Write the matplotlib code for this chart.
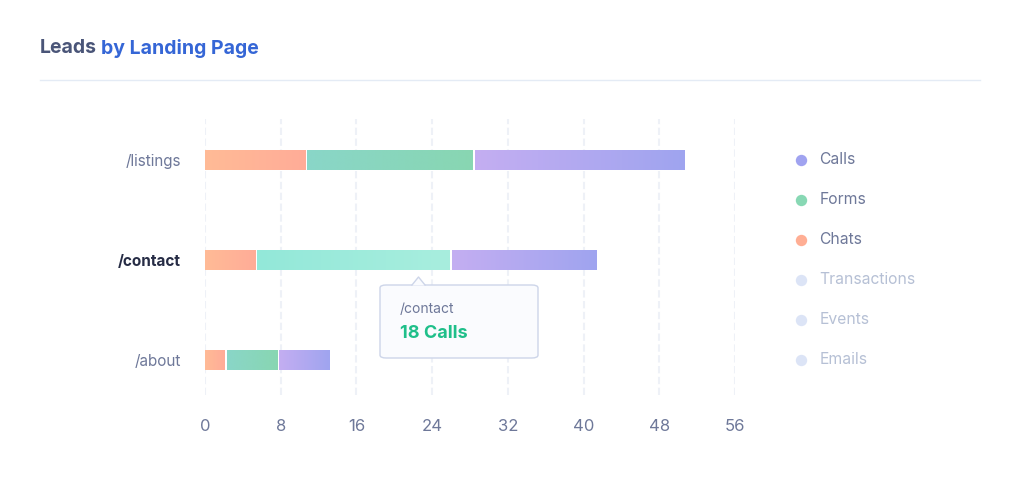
import matplotlib
matplotlib.use("Agg")
import matplotlib.pyplot as plt
import numpy as np
from matplotlib.patches import FancyBboxPatch, Polygon
from matplotlib.colors import LinearSegmentedColormap

# ---- data ----
pages = ["/listings", "/contact", "/about"]
chats = [10.7, 5.4, 2.2]
forms = [17.7, 20.6, 5.5]
calls = [22.4, 15.5, 5.5]
x_ticks = [0, 8, 16, 24, 32, 40, 48, 56]
legend_labels = ["Calls", "Forms", "Chats", "Transactions", "Events", "Emails"]
legend_active = [True, True, True, False, False, False]
title_a = "Leads"
title_b = "by Landing Page"
tooltip_page = "/contact"
tooltip_value = "18 Calls"
highlight_page = "/contact"

FONT = ["Inter", "DejaVu Sans"]
plt.rcParams["font.family"] = FONT

W, H = 1020, 480
fig = plt.figure(figsize=(W / 100, H / 100), dpi=100)
fig.patch.set_facecolor("white")

def fx(px):
    return px / W

def fy(py):
    return 1 - py / H

# axes placed in pixel positions
ax = fig.add_axes([fx(205), fy(395), fx(735) - fx(205), (395 - 119) / H])
ax.set_xlim(0, 56)
ax.set_ylim(2.35, -0.41)
for s in ax.spines.values():
    s.set_visible(False)
ax.set_facecolor("none")

ax.set_xticks(x_ticks)
ax.set_xticklabels([str(t) for t in x_ticks], fontsize=12, color="#6E7899")
ax.tick_params(axis="x", length=0, pad=17.5)
ax.grid(axis="x", color="#EEF1F7", linestyle=(0, (3.5, 1.7)), linewidth=1.5, zorder=0)
ax.set_axisbelow(True)

ypos = np.arange(len(pages))
ax.set_yticks(ypos)
ax.set_yticklabels(pages, fontsize=11, color="#6E7899")
ax.tick_params(axis="y", length=0, pad=17.5)
for lbl in ax.get_yticklabels():
    lbl.set_y(lbl.get_position()[1])
    if lbl.get_text() == highlight_page:
        lbl.set_fontweight("bold")
        lbl.set_color("#262C45")

grad = {
    "chats": ("#FFBB96", "#FFAC98"),
    "forms": ("#8AD6C8", "#88D6B2"),
    "calls": ("#C4AEF2", "#9FA4EF"),
    "forms_hl": ("#93E8D9", "#A8EEDE"),
}

px_unit = 56 / 530.0
bar_h = 0.2
grad_img = np.linspace(0, 1, 256).reshape(1, -1)

series = [("chats", chats), ("forms", forms), ("calls", calls)]
for i, page in enumerate(pages):
    left = 0.0
    for key, vals in series:
        v = vals[i]
        bars = ax.barh(i, v, left=left, height=bar_h, color="none", edgecolor="none")
        patch = bars[0]
        gkey = key
        if key == "forms" and page == highlight_page:
            gkey = "forms_hl"
        cmap = LinearSegmentedColormap.from_list(gkey, grad[gkey])
        x0 = patch.get_x() + (px_unit if patch.get_x() > 0 else 0)
        x1 = patch.get_x() + patch.get_width() - px_unit
        y0 = patch.get_y()
        y1 = y0 + patch.get_height()
        ax.imshow(grad_img, cmap=cmap, aspect="auto",
                  extent=[x0, x1, y1, y0], zorder=2, interpolation="bilinear")
        left += v

ax.set_xlim(0, 56)
ax.set_ylim(2.35, -0.41)

# ---- title ----
t1 = fig.text(fx(40), fy(48), title_a, fontsize=14, fontweight="bold",
              color="#4A5578", va="center", ha="left")
fig.canvas.draw()
bb = t1.get_window_extent()
fig.text(bb.x1 / W + fx(4), fy(48), title_b, fontsize=14, fontweight="bold",
         color="#3566D6", va="center", ha="left")
fig.add_artist(plt.Line2D([fx(40), fx(980)], [fy(80), fy(80)], color="#E4EBF5", linewidth=1))

# ---- legend ----
for k, (lab, act) in enumerate(zip(legend_labels, legend_active)):
    yy = 159.5 + 40 * k
    if act:
        ccol = {"Calls": "#A0A3F0", "Forms": "#88D8B4", "Chats": "#FFAE94"}[lab]
        tcol = "#6E7899"
    else:
        ccol = "#DCE4F6"
        tcol = "#B6C0D5"
    fig.add_artist(plt.Line2D([fx(801)], [fy(yy)], marker="o", markersize=8.2,
                              markerfacecolor=ccol, markeredgecolor="none", linestyle="none"))
    fig.text(fx(819.5), fy(yy), lab, fontsize=11.3, color=tcol, va="center", ha="left")

# ---- tooltip ----
box = FancyBboxPatch((fx(380), fy(358)), fx(538) - fx(380), (358 - 285) / H,
                     boxstyle="round,pad=0,rounding_size=0.006",
                     transform=fig.transFigure, facecolor="#FAFBFE",
                     edgecolor="#CDD5E9", linewidth=1, zorder=5)
fig.add_artist(box)
tri = Polygon([[fx(412), fy(285.5)], [fx(418.5), fy(277)], [fx(425), fy(285.5)]],
              closed=True, transform=fig.transFigure, facecolor="#FAFBFE",
              edgecolor="none", zorder=6)
fig.add_artist(tri)
fig.add_artist(plt.Line2D([fx(412), fx(418.5), fx(425)], [fy(285), fy(277), fy(285)],
                          color="#CDD5E9", linewidth=1, zorder=7))
fig.text(fx(400), fy(309), tooltip_page, fontsize=10, color="#6E7899",
         va="center", ha="left", zorder=8)
fig.text(fx(400), fy(333), tooltip_value, fontsize=13, fontweight="bold",
         color="#1FBF8A", va="center", ha="left", zorder=8)

fig.savefig("out.png", dpi=100, facecolor="white")
